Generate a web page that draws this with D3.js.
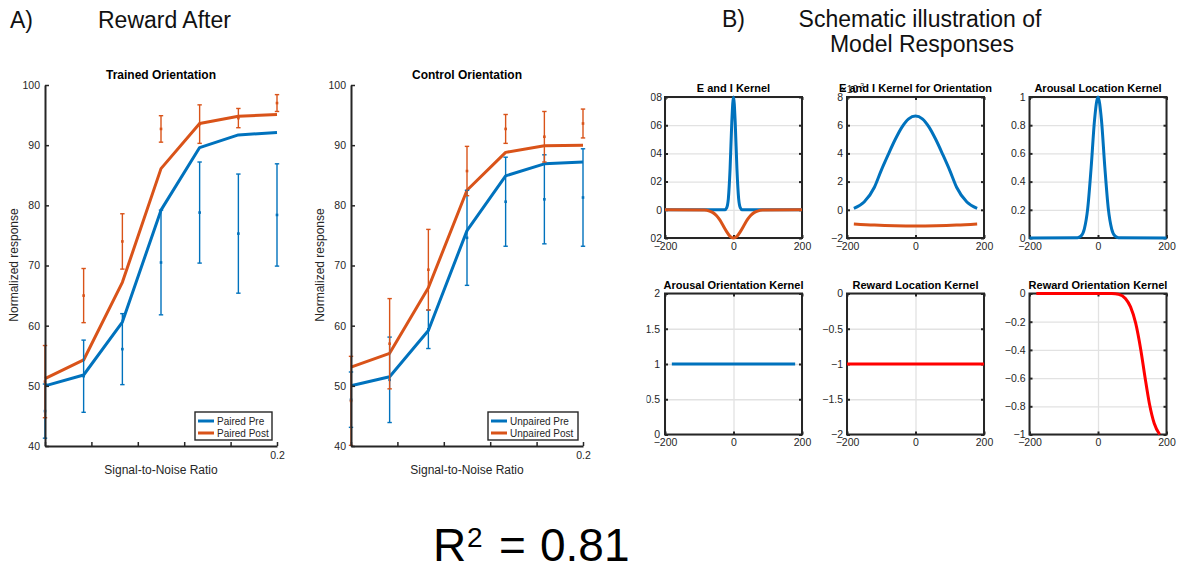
<!DOCTYPE html>
<html><head><meta charset="utf-8">
<script src="https://cdn.jsdelivr.net/npm/d3@7"></script>
<style>
body{margin:0;background:#fff;}
svg{display:block;font-family:"Liberation Sans",Arial,Helvetica,sans-serif;}
</style></head><body>
<svg id="chart" width="1181" height="571"></svg>
<script>
// ---------------- DATA ----------------
const snr = [0, 0.0333, 0.0667, 0.1, 0.1333, 0.1667, 0.2];
const snrTicks = [0, 0.04, 0.08, 0.12, 0.16, 0.2];
const snrTickLabels = ["", "", "", "", "", "0.2"];
const respTicks = [40, 50, 60, 70, 80, 90, 100];

// Trained orientation
const pairedPreFit   = [50.0, 51.8, 60.6, 79.2, 89.6, 91.7, 92.1];
const pairedPostFit  = [51.2, 54.3, 67.2, 86.1, 93.6, 94.8, 95.1];
const pairedPreMean  = [45.8, 51.6, 56.1, 70.5, 78.8, 75.3, 78.4];
const pairedPreErr   = [4.5, 6.0, 5.9, 8.7, 8.4, 9.9, 8.5];
const pairedPostMean = [50.7, 65.0, 74.0, 92.7, 93.5, 94.5, 97.0];
const pairedPostErr  = [6.0, 4.5, 4.6, 2.2, 3.2, 1.6, 1.4];

// Control orientation
const unpairedPreFit   = [50.0, 51.5, 59.2, 75.8, 84.9, 86.9, 87.2];
const unpairedPostFit  = [53.1, 55.4, 66.3, 82.5, 88.8, 89.9, 90.0];
const unpairedPreMean  = [47.7, 51.0, 59.4, 74.6, 80.6, 81.0, 81.3];
const unpairedPreErr   = [4.6, 7.1, 3.2, 7.9, 7.4, 7.4, 8.1];
const unpairedPostMean = [47.5, 57.0, 69.3, 85.7, 92.7, 91.4, 93.6];
const unpairedPostErr  = [7.4, 7.5, 6.7, 4.1, 2.4, 4.2, 2.4];

// Kernels
const kernelXTicks = [-200, 0, 200];
const eiExcX = [-200, -25, -20, -15, -10, -5, 0, 5, 10, 15, 20, 25, 200];
const eiExcY = [0, 0.0001, 0.0014, 0.008, 0.029, 0.062, 0.08, 0.062, 0.029, 0.008, 0.0014, 0.0001, 0];
const eiInhX = [-200, -85, -70, -60, -50, -40, -30, -20, -10, 0, 10, 20, 30, 40, 50, 60, 70, 85, 200];
const eiInhY = [0, -0.0002, -0.0009, -0.002, -0.004, -0.0072, -0.0113, -0.0155, -0.0188, -0.02,
                -0.0188, -0.0155, -0.0113, -0.0072, -0.004, -0.002, -0.0009, -0.0002, 0];
const eiYTicks = [-0.02, 0, 0.02, 0.04, 0.06, 0.08];

const oriExcX = [-180, -150, -120, -100, -80, -60, -40, -20, 0, 20, 40, 60, 80, 100, 120, 150, 180];
const oriExcY = [0.1, 0.55, 1.6, 2.8, 3.9, 4.95, 5.85, 6.45, 6.65, 6.45, 5.85, 4.95, 3.9, 2.8, 1.6, 0.55, 0.1]; // x10^-3
const oriInhX = [-180, -120, -60, 0, 60, 120, 180];
const oriInhY = [-1.0, -1.08, -1.13, -1.15, -1.13, -1.08, -1.0]; // x10^-3
const oriYTicks = [-2, 0, 2, 4, 6, 8];

const arLocX = [-200, -60, -50, -40, -30, -20, -10, 0, 10, 20, 30, 40, 50, 60, 200];
const arLocY = [0, 0.002, 0.013, 0.063, 0.21, 0.5, 0.84, 1, 0.84, 0.5, 0.21, 0.063, 0.013, 0.002, 0];
const arLocYTicks = [0, 0.2, 0.4, 0.6, 0.8, 1];

const arOriX = [-180, 180];
const arOriY = [1, 1];
const arOriYTicks = [0, 0.5, 1, 1.5, 2];

const rwLocX = [-200, 200];
const rwLocY = [-1, -1];
const rwLocYTicks = [-2, -1.5, -1, -0.5, 0];

const rwOriX = [-180, -100, 0, 40, 60, 80, 95, 110, 125, 137, 150, 164, 180];
const rwOriY = [0, 0, 0, -0.0002, -0.005, -0.035, -0.095, -0.21, -0.40, -0.59, -0.78, -0.92, -1.0];
const rwOriYTicks = [-1, -0.8, -0.6, -0.4, -0.2, 0];

// ---------------- DRAW ----------------
const svg = d3.select("#chart");
const AX = "#262626";
const BLUE = "#0072BD", ORANGE = "#D95319", RED = "#FF0000";
const defs = svg.append("defs");
let clipId = 0;
function clipRect(x, y, w, h) {
  const id = "clip" + (clipId++);
  defs.append("clipPath").attr("id", id).append("rect")
    .attr("x", x).attr("y", y).attr("width", w).attr("height", h);
  return "url(#" + id + ")";
}

// headers
const hdr = [
  {t: "A)", x: 10, y: 28, a: "start"},
  {t: "Reward After", x: 98, y: 28, a: "start"},
  {t: "B)", x: 722, y: 27, a: "start"},
  {t: "Schematic illustration of", x: 920, y: 27, a: "middle"},
  {t: "Model Responses", x: 922, y: 51.5, a: "middle"}
];
svg.selectAll("text.hdr").data(hdr).join("text").attr("class", "hdr")
  .attr("x", d => d.x).attr("y", d => d.y).attr("text-anchor", d => d.a)
  .attr("font-size", 23).attr("fill", "#111").text(d => d.t);

// R^2
svg.append("text").attr("x", 433).attr("y", 561).attr("font-size", 46).attr("fill", "#000").text("R");
svg.append("text").attr("x", 467).attr("y", 547).attr("font-size", 28).attr("fill", "#000").text("2");
svg.append("text").attr("x", 499).attr("y", 561).attr("font-size", 46).attr("fill", "#000").text("=");
svg.append("text").attr("x", 540).attr("y", 561).attr("font-size", 46).attr("fill", "#000").text("0.81");

function responsePlot(c) {
  const x = d3.scaleLinear().domain([0, 0.2]).range([c.x0, c.x1]);
  const y = d3.scaleLinear().domain([40, 100]).range([446, 85]);
  const g = svg.append("g");
  const dataG = g.append("g").attr("clip-path", clipRect(c.x0 - 6, 84, c.x1 - c.x0 + 12, 362));

  const line = d3.line().x((d, i) => x(snr[i])).y(d => y(d));
  dataG.append("path").datum(c.preFit).attr("d", line).attr("fill", "none")
    .attr("stroke", BLUE).attr("stroke-width", 3).attr("stroke-linejoin", "round");
  dataG.append("path").datum(c.postFit).attr("d", line).attr("fill", "none")
    .attr("stroke", ORANGE).attr("stroke-width", 3).attr("stroke-linejoin", "round");

  function errBars(mean, err, color) {
    const eg = dataG.append("g").attr("stroke", color).attr("stroke-width", 1.4);
    mean.forEach((m, i) => {
      const xx = x(snr[i]);
      eg.append("line").attr("x1", xx).attr("x2", xx).attr("y1", y(m - err[i])).attr("y2", y(m + err[i]));
      eg.append("line").attr("x1", xx - 2.2).attr("x2", xx + 2.2).attr("y1", y(m - err[i])).attr("y2", y(m - err[i]));
      eg.append("line").attr("x1", xx - 2.2).attr("x2", xx + 2.2).attr("y1", y(m + err[i])).attr("y2", y(m + err[i]));
      eg.append("rect").attr("x", xx - 1.3).attr("y", y(m) - 1.3).attr("width", 2.6).attr("height", 2.6)
        .attr("fill", color).attr("stroke", "none");
    });
  }
  errBars(c.preMean, c.preErr, BLUE);
  errBars(c.postMean, c.postErr, ORANGE);

  const ay = g.append("g").attr("transform", `translate(${c.x0},0)`)
    .call(d3.axisLeft(y).tickValues(respTicks).tickSizeInner(-4).tickSizeOuter(0).tickPadding(5));
  const ax = g.append("g").attr("transform", `translate(0,446)`)
    .call(d3.axisBottom(x).tickValues(snrTicks).tickFormat((d, i) => snrTickLabels[i])
      .tickSizeInner(-4).tickSizeOuter(0).tickPadding(5.5));
  [ay, ax].forEach(a => {
    a.attr("font-family", null);
    a.select(".domain").attr("stroke", AX).attr("stroke-width", 2);
    a.selectAll(".tick line").attr("stroke", AX).attr("stroke-width", 1.5);
    a.selectAll("text").attr("fill", AX).attr("font-size", 10.5);
  });

  g.append("text").attr("x", (c.x0 + c.x1) / 2).attr("y", 79).attr("text-anchor", "middle")
    .attr("font-size", 12).attr("font-weight", "bold").attr("fill", "#000").text(c.title);
  g.append("text").attr("x", (c.x0 + c.x1) / 2).attr("y", 474).attr("text-anchor", "middle")
    .attr("font-size", 12).attr("fill", AX).text("Signal-to-Noise Ratio");
  g.append("text").attr("transform", `translate(${c.x0 - 27},265) rotate(-90)`).attr("text-anchor", "middle")
    .attr("font-size", 12).attr("fill", AX).text("Normalized response");

  // legend
  const L = c.legend;
  const lg = g.append("g").attr("transform", `translate(${L.x},${L.y})`);
  lg.append("rect").attr("width", L.w).attr("height", 28).attr("fill", "#fff").attr("stroke", AX).attr("stroke-width", 1.4);
  const items = [{t: L.labels[0], c: BLUE}, {t: L.labels[1], c: ORANGE}];
  items.forEach((it, i) => {
    lg.append("line").attr("x1", 3).attr("x2", 19).attr("y1", 9 + i * 12).attr("y2", 9 + i * 12)
      .attr("stroke", it.c).attr("stroke-width", 3);
    lg.append("text").attr("x", 22).attr("y", 12.5 + i * 12).attr("font-size", 10).attr("fill", AX).text(it.t);
  });
}

responsePlot({x0: 45, x1: 277, title: "Trained Orientation",
  preFit: pairedPreFit, postFit: pairedPostFit, preMean: pairedPreMean, preErr: pairedPreErr,
  postMean: pairedPostMean, postErr: pairedPostErr,
  legend: {x: 195, y: 412, w: 77, labels: ["Paired Pre", "Paired Post"]}});
responsePlot({x0: 351, x1: 583, title: "Control Orientation",
  preFit: unpairedPreFit, postFit: unpairedPostFit, preMean: unpairedPreMean, preErr: unpairedPreErr,
  postMean: unpairedPostMean, postErr: unpairedPostErr,
  legend: {x: 488, y: 412, w: 90, labels: ["Unpaired Pre", "Unpaired Post"]}});

function kernelPlot(c) {
  const W = 137, H = 141;
  const L = c.left, T = c.top, B = T + H, R = L + W;
  const x = d3.scaleLinear().domain([-200, 200]).range([L, R]);
  const y = d3.scaleLinear().domain(c.yDomain).range([B, T]);
  const g = svg.append("g");
  // grid
  const gy = g.append("g").attr("transform", `translate(${L},0)`)
    .call(d3.axisLeft(y).tickValues(c.yTicks).tickSize(-W).tickFormat(""));
  const gx = g.append("g").attr("transform", `translate(0,${B})`)
    .call(d3.axisBottom(x).tickValues(kernelXTicks).tickSize(-H).tickFormat(""));
  [gy, gx].forEach(a => {
    a.select(".domain").remove();
    a.selectAll(".tick line").attr("stroke", "#e2e2e2").attr("stroke-width", 1.3);
  });
  // box
  g.append("rect").attr("x", L).attr("y", T).attr("width", W).attr("height", H)
    .attr("fill", "none").attr("stroke", AX).attr("stroke-width", 2);
  // axes with inward ticks
  const labelG = g.append("g");
  if (c.clipX) labelG.attr("clip-path", clipRect(c.clipX, T - 20, 300, H + 40));
  const aL = labelG.append("g").attr("transform", `translate(${L},0)`)
    .call(d3.axisLeft(y).tickValues(c.yTicks).tickSizeInner(-3).tickSizeOuter(0)
      .tickPadding(c.pad || 4).tickFormat(d3.format("")));
  const aR = g.append("g").attr("transform", `translate(${R},0)`)
    .call(d3.axisRight(y).tickValues(c.yTicks).tickSizeInner(-3).tickSizeOuter(0).tickFormat(""));
  const aB = g.append("g").attr("transform", `translate(0,${B})`)
    .call(d3.axisBottom(x).tickValues(kernelXTicks).tickSizeInner(-3).tickSizeOuter(0).tickPadding(4.5));
  const aT = g.append("g").attr("transform", `translate(0,${T})`)
    .call(d3.axisTop(x).tickValues(kernelXTicks).tickSizeInner(-3).tickSizeOuter(0).tickFormat(""));
  [aL, aR, aB, aT].forEach(a => {
    a.attr("font-family", null);
    a.select(".domain").remove();
    a.selectAll(".tick line").attr("stroke", AX).attr("stroke-width", 2);
    a.selectAll("text").attr("fill", AX).attr("font-size", 10.5);
  });
  // series
  c.series.forEach(s => {
    const pts = s.xs.map((v, i) => [v, s.ys[i]]);
    g.append("path").datum(pts)
      .attr("d", d3.line().x(d => x(d[0])).y(d => y(d[1])).curve(d3.curveMonotoneX))
      .attr("fill", "none").attr("stroke", s.color).attr("stroke-width", 3)
      .attr("stroke-linejoin", "round");
  });
  // exponent label
  if (c.exp) {
    const t = g.append("text").attr("x", L - 6).attr("y", T - 4).attr("font-size", 10).attr("fill", AX);
    t.append("tspan").text("×10");
    t.append("tspan").attr("dy", -5).attr("font-size", 7).text(c.exp);
  }
  g.append("text").attr("x", (L + R) / 2).attr("y", T - 5).attr("text-anchor", "middle")
    .attr("font-size", 11).attr("font-weight", "bold").attr("fill", "#000").text(c.title);
}

kernelPlot({left: 665, top: 97, title: "E and I Kernel", yDomain: [-0.02, 0.08], yTicks: eiYTicks, clipX: 650.5, pad: 3,
  series: [{xs: eiExcX, ys: eiExcY, color: BLUE}, {xs: eiInhX, ys: eiInhY, color: ORANGE}]});
kernelPlot({left: 847, top: 97, title: "E and I Kernel for Orientation", yDomain: [-2, 8], yTicks: oriYTicks, exp: "-3",
  series: [{xs: oriExcX, ys: oriExcY, color: BLUE}, {xs: oriInhX, ys: oriInhY, color: ORANGE}]});
kernelPlot({left: 1029.5, top: 97, title: "Arousal Location Kernel", yDomain: [0, 1], yTicks: arLocYTicks,
  series: [{xs: arLocX, ys: arLocY, color: BLUE}]});
kernelPlot({left: 665, top: 293.5, title: "Arousal Orientation Kernel", yDomain: [0, 2], yTicks: arOriYTicks, clipX: 646.5, pad: 5,
  series: [{xs: arOriX, ys: arOriY, color: BLUE}]});
kernelPlot({left: 847, top: 293.5, title: "Reward Location Kernel", yDomain: [-2, 0], yTicks: rwLocYTicks,
  series: [{xs: rwLocX, ys: rwLocY, color: RED}]});
kernelPlot({left: 1029.5, top: 293.5, title: "Reward Orientation Kernel", yDomain: [-1, 0], yTicks: rwOriYTicks,
  series: [{xs: rwOriX, ys: rwOriY, color: RED}]});
</script></body></html>
